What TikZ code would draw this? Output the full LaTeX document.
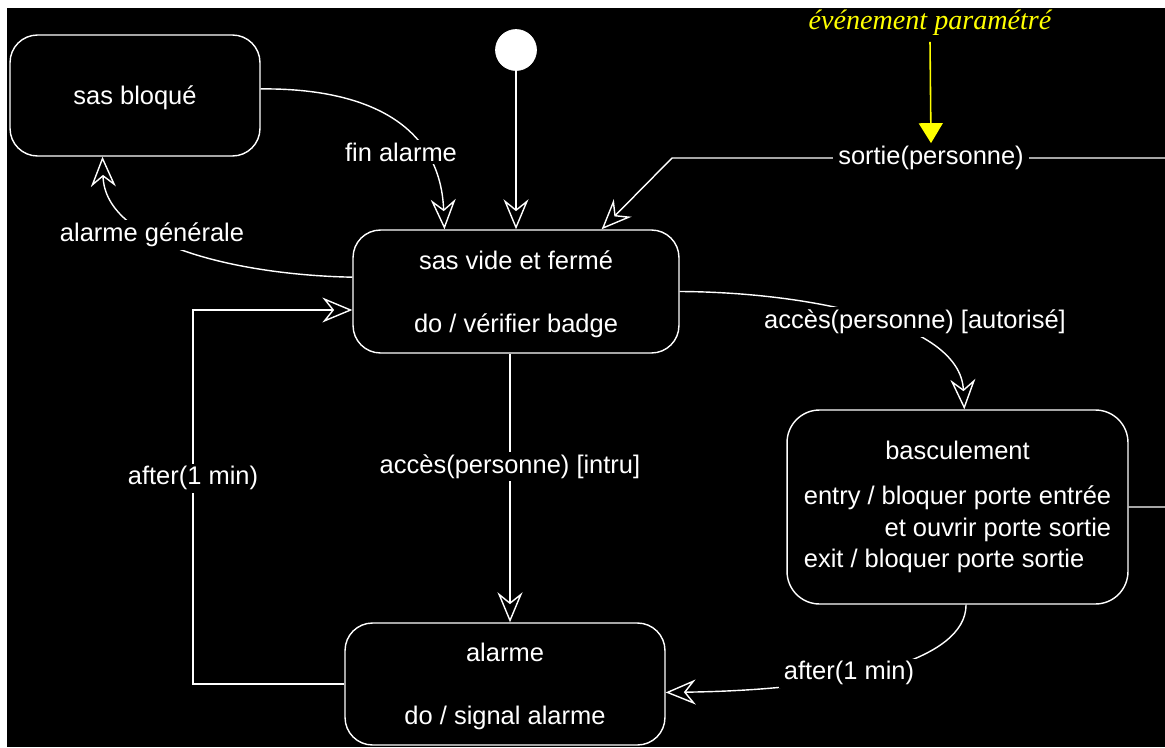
\documentclass[tikz,border=0pt]{standalone}
\usepackage{fontspec}
\setmainfont{Liberation Sans}
\newfontfamily\notefont{Liberation Serif}
\usetikzlibrary{arrows.meta}
\definecolor{noteyellow}{RGB}{255,255,0}

\begin{document}
\begin{tikzpicture}[
    x=0.02cm, y=-0.02cm,
    font=\fontsize{14.5}{17.9}\selectfont,
    statebox/.style={draw=white, text=white, line width=0.8pt, rounded corners=0.55cm, align=center, inner sep=0pt},
    flatbox/.style={statebox, text depth=0pt},
    initdot/.style={circle, fill=white, draw=white, minimum size=0.82cm, inner sep=0pt},
    lbl/.style={fill=black, text=white, inner xsep=3pt, inner ysep=1.5pt},
    trans/.style={draw=white, line width=0.8pt, -{Stealth[open, length=0.6cm, width=0.5cm, inset=0.2cm]}},
    notetext/.style={text=noteyellow, font=\notefont\itshape\fontsize{16}{19}\selectfont},
    notearr/.style={noteyellow, line width=0.9pt, -{Triangle[length=0.4cm, width=0.48cm]}}
]
\useasboundingbox (0,0) rectangle (1165,747);
\clip (0,0) rectangle (1165,747);
\fill[white] (0,0) rectangle (1165,747);
\fill[black] (7,8) rectangle (1165,747);

\node[flatbox, minimum width=5cm, minimum height=2.42cm] (bloque) at (135,95.5) {sas bloqué};
\node[initdot] (init) at (516,50) {};
\node[flatbox, minimum width=6.52cm, minimum height=2.46cm] (vide) at (516,291.5) {sas vide et fermé\\[17.8pt]do / vérifier badge};
\node[flatbox, minimum width=6.4cm, minimum height=2.44cm] (alarme) at (505,684) {alarme\\[17.8pt]do / signal alarme};
\node[statebox, minimum width=6.82cm, minimum height=3.88cm, rounded corners=0.65cm] (basc) at (957.5,507)
    {\begin{tabular}{@{}l@{}}\multicolumn{1}{@{}c@{}}{basculement}\\[8pt]
     entry / bloquer porte entrée\\
     \multicolumn{1}{@{}r@{}}{et ouvrir porte sortie}\\
     exit / bloquer porte sortie\end{tabular}};

\draw[trans] (init) -- (vide.north);

\draw[trans] (bloque.3) .. controls (360,88) and (440,120) .. (vide.139.5);
\node[lbl] (fin-lbl) at (401,152) {fin alarme};

\draw[trans] (vide.175) .. controls (240,275) and (105,245) .. (bloque.-118.6);
\node[lbl] (gen-lbl) at (152,235) {alarme générale};

% sortie loops round the right edge
\coordinate (sortie-bend) at (672,158);
\draw[trans] (basc.east) -- ++(60,0) |- (sortie-bend) -- (vide.36);
\node[lbl] (sortie-lbl) at (931,158) {sortie(personne)};

\draw[trans] (vide.east) .. controls (800,292) and (960,320) .. (basc.86);
\node[lbl] (aut-lbl) at (915,322) {accès(personne) [autorisé]};

\coordinate (intru-x) at (510,0);
\draw[trans] (vide.south -| intru-x) -- node[lbl, pos=0.42] (intru-lbl) {accès(personne) [intru]} (alarme.north -| intru-x);

\draw[trans] (basc.-85) .. controls (966,660) and (850,690) .. (alarme.-3);
\node[lbl] (after-lbl) at (849,673) {after(1 min)};

\coordinate (loop-top) at (193,310);
\draw[trans] (alarme.west) -| node[lbl, pos=0.775] (loop-lbl) {after(1 min)} (loop-top) -- (loop-top -| vide.west);

\node[notetext] (evt) at (930,23) {événement paramétré};
\draw[notearr] (evt.south) -- (sortie-lbl.north);
\end{tikzpicture}
\end{document}
